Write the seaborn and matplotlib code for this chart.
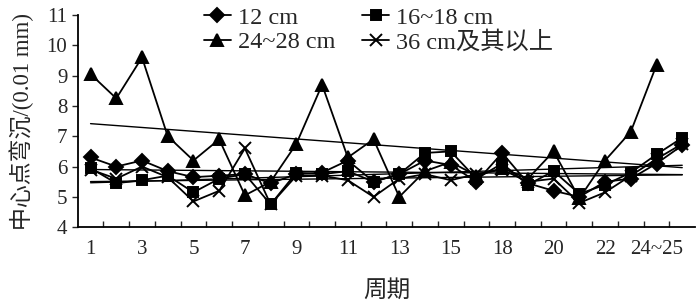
import numpy as np
import pandas as pd
import matplotlib
matplotlib.use("Agg")
import matplotlib.pyplot as plt
import seaborn as sns

# period index (24 measurement points), labels shown every second point
periods = list(range(24))
tick_pos = [0, 2, 4, 6, 8, 10, 12, 14, 16, 18, 20, 22]
tick_labels = ['1', '3', '5', '7', '9', '11', '13', '15', '18', '20', '22', '24~25']

# centre-point deflection (0.01 mm) by thickness group
d12 = [6.3, 6.0, 6.2, 5.85, 5.65, 5.7, 5.75, 5.45, 5.75, 5.8, 6.2, 5.5,
       5.75, 6.2, 6.05, 5.5, 6.45, 5.45, 5.2, 5.0, 5.5, 5.6, 6.1, 6.7]
d16 = [5.95, 5.45, 5.55, 5.7, 5.15, 5.6, 5.75, 4.75, 5.8, 5.75, 5.85, 5.5,
       5.75, 6.45, 6.5, 5.6, 6.1, 5.4, 5.85, 5.1, 5.4, 5.8, 6.4, 6.95]
d24 = [9.05, 8.25, 9.6, 7.0, 6.2, 6.9, 5.05, 5.5, 6.75, 8.7, 6.3, 6.9,
       5.0, 5.85, 6.15, 5.7, 5.95, 5.6, 6.5, 4.95, 6.2, 7.15, 9.35, np.nan]
d36 = [5.9, 5.6, 6.0, 5.65, 4.85, 5.2, 6.6, 4.75, 5.7, 5.7, 5.55, 5.0,
       5.6, 5.75, 5.55, 5.75, 5.9, 5.5, 5.6, 4.8, 5.15, 5.7, 6.25, 6.75]

series = [('12 cm', d12, 'D', 7), ('16~18 cm', d16, 's', 6.5),
          ('24~28 cm', d24, '^', 9), ('36 cm及其以上', d36, 'x', 9)]

sns.set_style("ticks")
plt.rcParams['font.family'] = ['Liberation Serif', 'Noto Sans CJK SC']
plt.rcParams['axes.unicode_minus'] = False

fig = plt.figure(figsize=(7, 3.07), dpi=100)
ax = fig.add_axes([0.111, 0.26, 0.882, 0.691])

x = np.array(periods)
handles = {}
for name, vals, mk, ms in series:
    y = np.array(vals, dtype=float)
    sns.lineplot(x=x, y=y, ax=ax, color='black', marker=mk, markersize=ms,
                 markeredgecolor='black', markeredgewidth=1.4, linewidth=1.3,
                 label=name)
    handles[name] = ax.lines[-1]
    # linear trend line over the whole period range
    ok = ~np.isnan(y)
    k, b = np.polyfit(x[ok], y[ok], 1)
    ax.plot(x, k * x + b, color='black', linewidth=1.0)

ax.set_xlim(-0.5, 23.5)
ax.set_ylim(4, 11)
ax.set_yticks(range(4, 12))
ax.set_xticks(tick_pos)
ax.set_xticklabels(tick_labels)
ax.set_xticks(np.arange(0.5, 23.5, 1), minor=True)
ax.tick_params(axis='x', which='major', length=0, pad=9, labelsize=15)
ax.tick_params(axis='x', which='minor', direction='in', length=4, width=1)
ax.tick_params(axis='y', direction='out', length=4, width=1, labelsize=15)
for s in ['top', 'right']:
    ax.spines[s].set_visible(False)
for s in ['left', 'bottom']:
    ax.spines[s].set_linewidth(1.3)
    ax.spines[s].set_color('black')

ax.set_xlabel('周期', fontsize=17, labelpad=15)
ax.set_ylabel('中心点弯沉/(0.01 mm)', fontsize=16.5, labelpad=9)

# legend filled column-wise: 12 / 24~28 in first column, 16~18 / 36 in second
order = ['12 cm', '24~28 cm', '16~18 cm', '36 cm及其以上']
ax.legend([handles[n] for n in order], order, ncol=2, loc='upper left',
          bbox_to_anchor=(0.189, 1.085), frameon=False, fontsize=17.5,
          handlelength=1.1, columnspacing=1.1, labelspacing=0.1,
          handletextpad=0.3, borderaxespad=0)

plt.savefig('out.png', dpi=100)
